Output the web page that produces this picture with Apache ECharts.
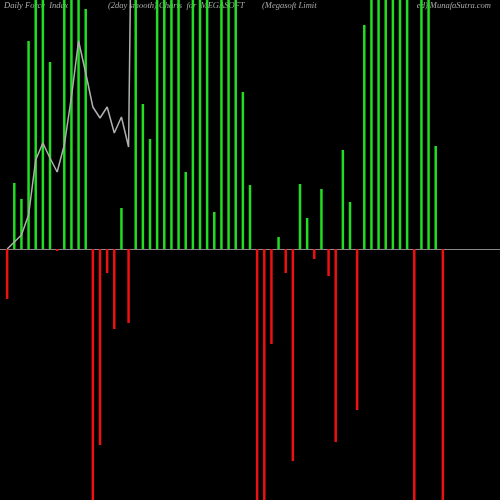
<!DOCTYPE html>
<html><head><meta charset="utf-8">
<script src="https://cdn.jsdelivr.net/npm/echarts@6/dist/echarts.min.js"></script>
<style>html,body{margin:0;padding:0;background:#000}#c{width:500px;height:500px}</style>
</head><body><div id="c"></div>
<script>
// force index values (px-scaled units above/below zero line)
const forceValues = [-50,66,50,208,300,300,187,-2,300,300,300,240,-300,-196,-24,-80,41,-74,300,145,110,300,300,300,300,77,300,300,300,37,300,300,300,157,64,-300,-300,-95,12,-24,-212,65,31,-10,60,-27,-193,99,47,-161,224,300,300,300,300,300,300,-300,300,300,103,-300];
const smoothValues = [0,7,14,34,89,106,91,77,104,152,208,176,142,131,142,116,132,102,700];
const titles = ["Daily Force  Index","(2day smooth) Charts  for  MEGASOFT","(Megasoft Limit","ed) MunafaSutra.com"];

const chart = echarts.init(document.getElementById('c'));
const barData = forceValues.map((v,i)=>({value:[i,v],itemStyle:{color:v>=0?'#22dd22':'#ee1111'}}));
const lineData = smoothValues.map((v,i)=>[i,v]);
const font = 'italic 8.5px "Liberation Serif"';
chart.setOption({
  backgroundColor:'#000',
  animation:false,
  graphic:[
    {type:'text',left:4,top:1,z:-10,style:{text:titles[0],fill:'#aaa',font:font}},
    {type:'text',left:108,top:1,z:-10,style:{text:titles[1],fill:'#aaa',font:font}},
    {type:'text',left:262,top:1,z:-10,style:{text:titles[2],fill:'#aaa',font:font}},
    {type:'text',right:9,top:1,z:-10,style:{text:titles[3],fill:'#aaa',font:font}}
  ],
  grid:{left:0,right:0,top:0,bottom:0},
  xAxis:{type:'value',min:-1,max:69,show:false},
  yAxis:{type:'value',min:-251,max:249,show:false},
  series:[
    {type:'bar',data:barData,barWidth:2.5,clip:true,z:5,
     markLine:{silent:true,symbol:'none',label:{show:false},lineStyle:{color:'#888',width:1,type:'solid'},data:[{yAxis:0}]}},
    {type:'line',data:lineData,showSymbol:false,clip:true,z:6,lineStyle:{color:'#b0b0b0',width:1.5}}
  ]
});
</script></body></html>
